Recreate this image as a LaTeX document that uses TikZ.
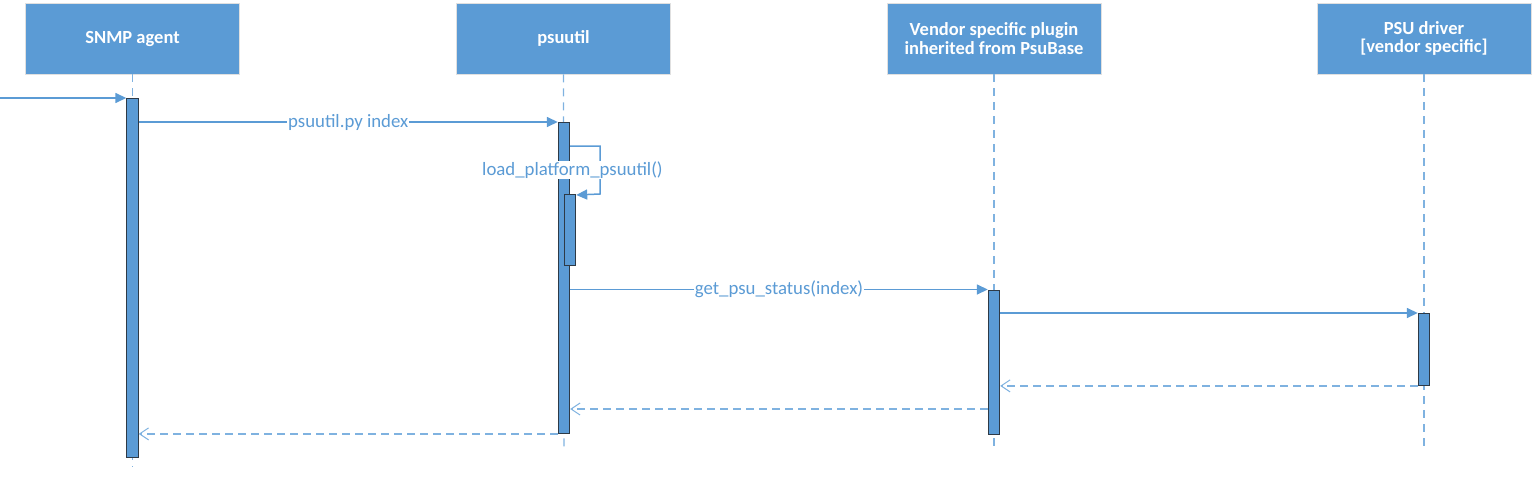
\documentclass[tikz,border=0pt]{standalone}
\usepackage{fontspec}
\setmainfont{Carlito}
\usetikzlibrary{arrows.meta}
\definecolor{vblue}{HTML}{5B9BD5}
\definecolor{vline}{HTML}{5B9BD5}
\definecolor{vdash}{HTML}{7FB2E0}
\definecolor{vedge}{HTML}{2E3A46}
\tikzset{
  head/.style={rectangle, fill=vblue, draw=black!12, line width=0.8pt, text=white,
    font=\fontsize{18.5}{18.5}\selectfont\bfseries, align=center,
    minimum width=214pt, minimum height=71pt, inner sep=0pt},
  act/.style={rectangle, fill=vblue, draw=vedge, line width=0.9pt, minimum width=11.5pt,
    inner sep=0pt, anchor=north},
  life/.style={vdash, line width=1.2pt, dash pattern=on 8pt off 6pt},
  msg/.style={vline, line width=1.5pt, -{Triangle[length=11pt,width=10pt]}},
  ret/.style={vdash, line width=1.3pt, dash pattern=on 8pt off 5pt, -{Straight Barb[length=9pt,width=12pt,line width=1pt]}},
  lbl/.style={fill=white, text=vblue, font=\fontsize{18.8}{19}\selectfont, inner sep=1pt}
}
\begin{document}
\begin{tikzpicture}[x=1pt,y=-1pt]
\useasboundingbox (0,0) rectangle (1540,477);
% heads
\node[head] (snmp) at (132.5,38.5) {SNMP agent};
\node[head] (psu) at (563.5,38.5) {psuutil};
\node[head] (ven) at (994,38.5) {Vendor specific plugin\\inherited from PsuBase};
\node[head] (drv) at (1424,38.5) {PSU driver\\{}[vendor specific]};
% lifeline ends
\coordinate (e1) at (132.5,467);
\coordinate (e2) at (564,452);
\coordinate (e3) at (994,452);
\coordinate (e4) at (1424,452);
\draw[life] (snmp.south) -- (e1);
\draw[life] (psu.south) -- (e2);
\draw[life] (ven.south) -- (e3);
\draw[life] (drv.south) -- (e4);
% activation bars
\node[act, minimum height=359pt] (a1) at (132.5,98) {};
\node[act, minimum height=311pt] (a2) at (564,122) {};
\node[act, minimum height=71pt] (a3) at (570,194) {};
\node[act, minimum height=144pt] (a4) at (994,289.5) {};
\node[act, minimum height=72pt] (a5) at (1424,313) {};
% incoming
\coordinate (in) at (0,98);
\draw[msg] (in) -- (a1.north west);
% psuutil.py index
\draw[msg] (a1.east |- a2.north) -- (a2.north west)
  node[lbl, midway] (l1) {psuutil.py index};
% self call
\coordinate (s1) at (600,146);
\draw[msg] (a2.east |- s1) -- (s1) -- (s1 |- a3.north) -- ([yshift=-1pt]a3.north east);
\node[lbl] (l2) at (572.5,170) {load\_platform\_psuutil()};
% get_psu_status
\draw[msg] (a2.east |- a4.north) -- (a4.north west)
  node[lbl, midway] (l3) {get\_psu\_status(index)};
% to driver
\draw[msg] (a4.east |- a5.north) -- (a5.north west);
% returns
\draw[ret] (a5.south west) -- (a4.east |- a5.south);
\draw[ret] (a4.west |- 0,409) -- (a2.east |- 0,409);
\draw[ret] (a2.south west) -- (a1.east |- a2.south);
\end{tikzpicture}
\end{document}
